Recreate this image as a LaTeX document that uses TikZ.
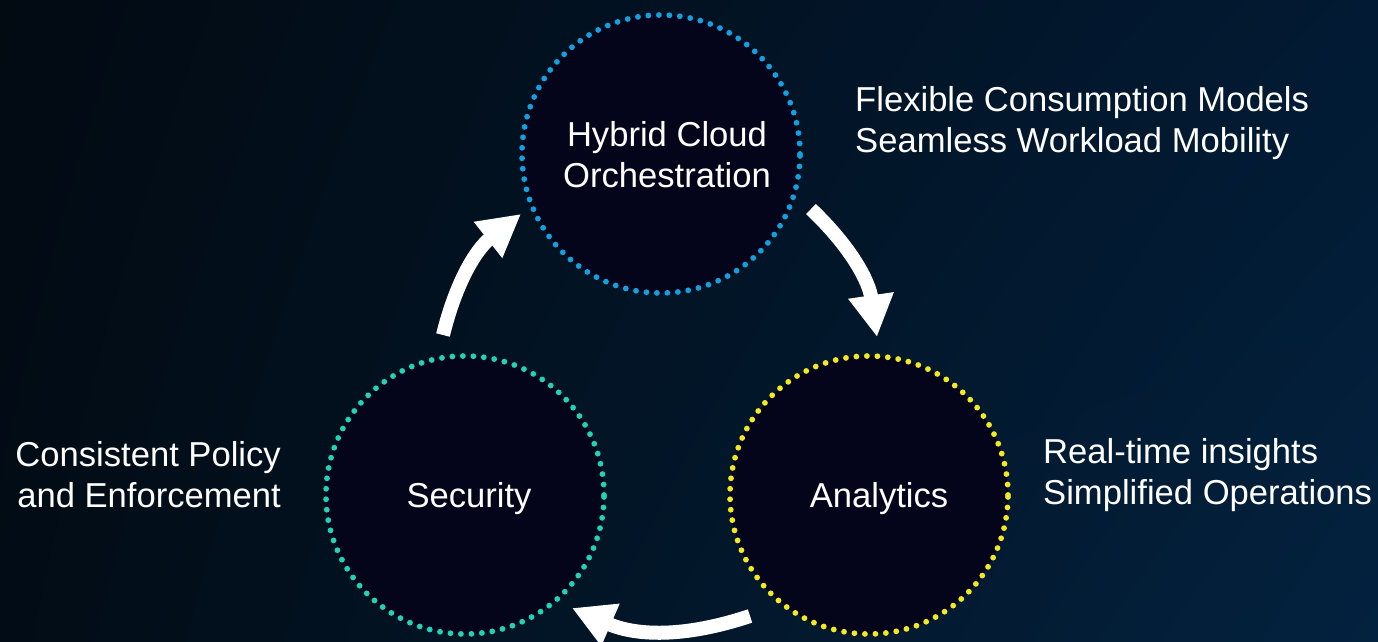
\documentclass[tikz,border=0pt]{standalone}
\usepackage{fontspec}
\setmainfont{Liberation Sans}
\usetikzlibrary{arrows.meta,shadings}
\definecolor{bgTL}{HTML}{020A12}
\definecolor{bgBL}{HTML}{020C16}
\definecolor{bgTR}{HTML}{021A33}
\definecolor{bgBR}{HTML}{03223F}
\definecolor{inner}{HTML}{04051A}
\definecolor{cblue}{HTML}{14A0DC}
\definecolor{cteal}{HTML}{22D2B4}
\definecolor{cyellow}{HTML}{F2E824}
\begin{document}
\begin{tikzpicture}[x=1pt,y=1pt,
  ring/.style={circle, minimum size=278pt, inner sep=0pt, fill=inner,
    line width=5.8pt, dash pattern=on 0pt off 10.5pt, line cap=round},
  lbl/.style={text=white, font=\fontsize{34.6}{41}\selectfont, align=center, inner sep=0pt},
  side/.style={text=white, font=\fontsize{34.6}{41}\selectfont, inner sep=0pt},
  flow/.style={white, line width=14pt, -{Triangle[width=43pt,length=42pt]}}]
\useasboundingbox (0,0) rectangle (1378,642);
\shade[upper left=bgTL, upper right=bgTR, lower left=bgBL, lower right=bgBR] (0,0) rectangle (1378,642);
% circles
\node[ring, draw=cblue]   (top)   at (661,488) {};
\node[ring, draw=cteal]   (left)  at (465,147) {};
\node[ring, draw=cyellow] (right) at (869,147) {};
% circle labels
\node[lbl] (tlab) at (667,487) {Hybrid Cloud\\Orchestration};
\node[lbl] (llab) at (469,143) {Security};
\node[lbl] (rlab) at (879,143) {Analytics};
% side texts
\node[side, anchor=west, align=left] (tside) at (855,519) {Flexible Consumption Models\\Seamless Workload Mobility};
\node[side, anchor=west, align=left] (rside) at (1043,167) {Real-time insights\\Simplified Operations};
\node[side, anchor=east, align=right] (lside) at (281,167) {Consistent Policy\\and Enforcement};
% arrow end points
\coordinate (a1s) at (811,433);
\coordinate (a1e) at (877,305);
\coordinate (a2s) at (443,307);
\coordinate (a2e) at (521,428);
\coordinate (a3s) at (750,26);
\coordinate (a3e) at (572,34);
\draw[flow] (a1s) to[bend left=19] (a1e);
\draw[flow] (a2s) to[bend left=19] (a2e);
\draw[flow] (a3s) to[bend left=21] (a3e);
\end{tikzpicture}
\end{document}
